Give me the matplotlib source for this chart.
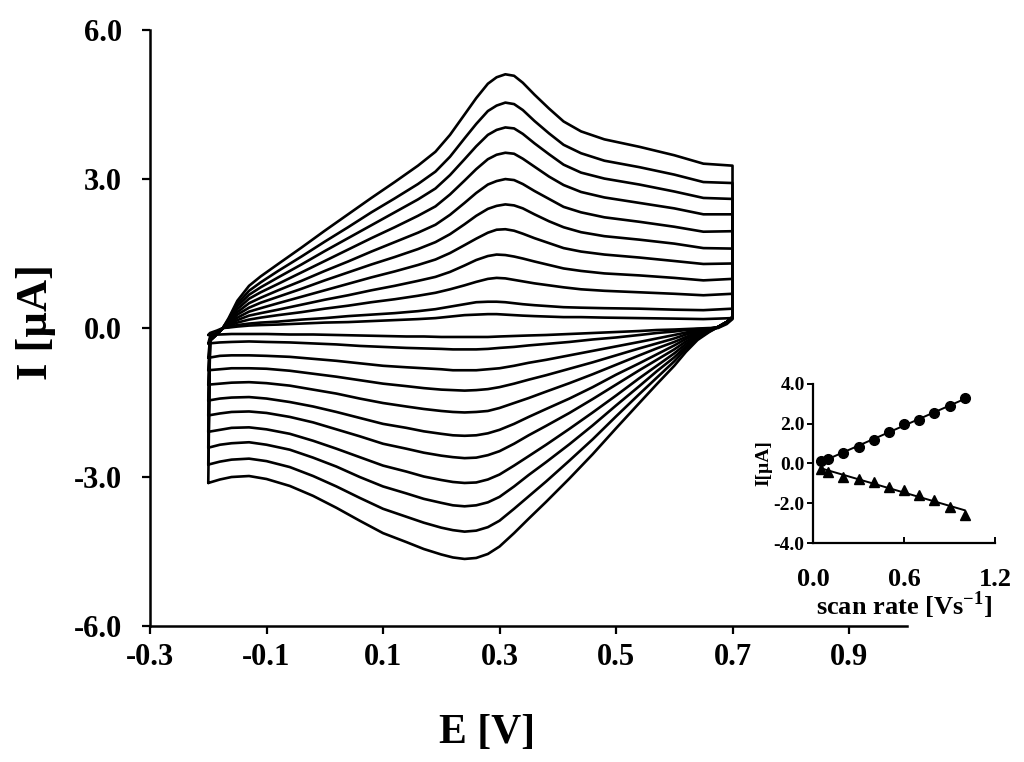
"""Cyclic voltammograms at increasing scan rate, with peak current vs scan rate inset."""
import matplotlib
matplotlib.use("Agg")
import matplotlib.pyplot as plt
import numpy as np

plt.rcParams["font.family"] = ["Liberation Serif", "DejaVu Serif"]
plt.rcParams["font.weight"] = "bold"
plt.rcParams["mathtext.fontset"] = "custom"
plt.rcParams["mathtext.rm"] = "Liberation Serif:bold"
plt.rcParams["mathtext.bf"] = "Liberation Serif:bold"

# ---------- main CVs (potential grids shared by all curves) ---------- #
E_fwd = [-0.200, -0.197, -0.185, -0.175, -0.165, -0.150, -0.130, -0.110, -0.080, -0.040,
         0.000, 0.040, 0.080, 0.120, 0.160, 0.190, 0.215, 0.240, 0.260, 0.280,
         0.295, 0.310, 0.325, 0.340, 0.360, 0.385, 0.410, 0.440, 0.480, 0.540,
         0.600, 0.650, 0.700]
E_rev = [0.700, 0.690, 0.675, 0.660, 0.640, 0.620, 0.600, 0.570, 0.540, 0.500,
         0.460, 0.420, 0.380, 0.350, 0.325, 0.300, 0.280, 0.260, 0.240, 0.220,
         0.200, 0.170, 0.140, 0.100, 0.060, 0.020, -0.020, -0.060, -0.100, -0.130,
         -0.160, -0.180, -0.200]

# anodic (forward) branches, 1.0 V/s first, I in uA
I_fwd = [
    [-3.12, -0.25, -0.12, 0.00, 0.20, 0.55, 0.85, 1.04, 1.29, 1.62, 1.96, 2.29, 2.62, 2.94, 3.27, 3.55, 3.89, 4.30, 4.63, 4.92, 5.05, 5.11, 5.08, 4.94, 4.70, 4.42, 4.16, 3.96, 3.80, 3.65, 3.48, 3.31, 3.27],
    [-2.75, -0.25, -0.12, 0.00, 0.18, 0.49, 0.75, 0.92, 1.15, 1.44, 1.74, 2.03, 2.33, 2.61, 2.90, 3.15, 3.45, 3.82, 4.11, 4.37, 4.48, 4.54, 4.51, 4.39, 4.17, 3.92, 3.69, 3.52, 3.37, 3.24, 3.09, 2.94, 2.92],
    [-2.41, -0.25, -0.12, 0.00, 0.16, 0.44, 0.67, 0.82, 1.02, 1.28, 1.55, 1.81, 2.07, 2.33, 2.59, 2.81, 3.08, 3.40, 3.66, 3.89, 3.99, 4.04, 4.02, 3.91, 3.72, 3.50, 3.29, 3.13, 3.01, 2.89, 2.75, 2.62, 2.60],
    [-2.09, -0.25, -0.12, 0.00, 0.14, 0.38, 0.59, 0.72, 0.89, 1.12, 1.35, 1.58, 1.81, 2.03, 2.26, 2.45, 2.69, 2.97, 3.20, 3.40, 3.49, 3.53, 3.51, 3.41, 3.25, 3.05, 2.88, 2.74, 2.63, 2.52, 2.41, 2.29, 2.29],
    [-1.76, -0.25, -0.12, 0.00, 0.12, 0.32, 0.50, 0.61, 0.76, 0.95, 1.15, 1.34, 1.54, 1.73, 1.92, 2.08, 2.28, 2.52, 2.72, 2.89, 2.96, 3.00, 2.98, 2.90, 2.76, 2.60, 2.44, 2.33, 2.23, 2.14, 2.04, 1.94, 1.95],
    [-1.46, -0.25, -0.12, 0.00, 0.10, 0.27, 0.41, 0.51, 0.63, 0.79, 0.96, 1.12, 1.28, 1.43, 1.59, 1.73, 1.89, 2.09, 2.26, 2.40, 2.46, 2.49, 2.47, 2.41, 2.29, 2.15, 2.03, 1.93, 1.85, 1.78, 1.70, 1.61, 1.60],
    [-1.14, -0.25, -0.12, 0.00, 0.08, 0.21, 0.33, 0.40, 0.50, 0.63, 0.76, 0.89, 1.02, 1.14, 1.27, 1.38, 1.51, 1.67, 1.80, 1.92, 1.98, 1.99, 1.96, 1.90, 1.81, 1.71, 1.61, 1.54, 1.48, 1.42, 1.35, 1.29, 1.30],
    [-0.85, -0.25, -0.12, 0.00, 0.06, 0.16, 0.25, 0.30, 0.37, 0.47, 0.57, 0.66, 0.76, 0.85, 0.95, 1.03, 1.13, 1.26, 1.37, 1.45, 1.48, 1.47, 1.44, 1.40, 1.34, 1.27, 1.20, 1.15, 1.10, 1.06, 1.01, 0.96, 0.99],
    [-0.60, -0.22, -0.10, 0.00, 0.04, 0.11, 0.17, 0.21, 0.26, 0.32, 0.39, 0.45, 0.52, 0.58, 0.65, 0.71, 0.78, 0.86, 0.93, 0.99, 1.01, 1.00, 0.97, 0.94, 0.90, 0.86, 0.82, 0.78, 0.75, 0.72, 0.69, 0.66, 0.69],
    [-0.31, -0.18, -0.08, 0.00, 0.02, 0.06, 0.09, 0.11, 0.13, 0.17, 0.20, 0.24, 0.27, 0.30, 0.34, 0.38, 0.43, 0.48, 0.52, 0.53, 0.53, 0.52, 0.50, 0.48, 0.46, 0.44, 0.42, 0.41, 0.40, 0.39, 0.37, 0.36, 0.39],
    [-0.14, -0.10, -0.05, 0.00, 0.01, 0.03, 0.05, 0.06, 0.07, 0.09, 0.11, 0.12, 0.14, 0.16, 0.18, 0.20, 0.23, 0.26, 0.27, 0.28, 0.28, 0.27, 0.26, 0.25, 0.24, 0.23, 0.22, 0.22, 0.21, 0.20, 0.19, 0.18, 0.20],
]

# cathodic (reverse) branches, same order
I_rev = [
    [0.22, 0.12, 0.02, -0.08, -0.24, -0.48, -0.76, -1.13, -1.51, -2.02, -2.54, -3.03, -3.50, -3.84, -4.13, -4.40, -4.55, -4.63, -4.65, -4.62, -4.56, -4.45, -4.31, -4.13, -3.88, -3.62, -3.38, -3.18, -3.04, -2.98, -3.00, -3.05, -3.12],
    [0.22, 0.12, 0.02, -0.07, -0.21, -0.42, -0.67, -1.00, -1.33, -1.78, -2.24, -2.67, -3.09, -3.39, -3.64, -3.88, -4.01, -4.08, -4.10, -4.07, -4.02, -3.92, -3.80, -3.64, -3.42, -3.19, -2.98, -2.80, -2.68, -2.63, -2.65, -2.69, -2.75],
    [0.22, 0.12, 0.02, -0.06, -0.19, -0.37, -0.59, -0.87, -1.17, -1.56, -1.96, -2.34, -2.70, -2.96, -3.19, -3.40, -3.51, -3.57, -3.59, -3.57, -3.52, -3.44, -3.33, -3.19, -3.00, -2.79, -2.61, -2.45, -2.35, -2.30, -2.32, -2.35, -2.41],
    [0.22, 0.12, 0.02, -0.05, -0.16, -0.32, -0.51, -0.76, -1.01, -1.36, -1.70, -2.03, -2.35, -2.58, -2.77, -2.95, -3.05, -3.11, -3.12, -3.10, -3.06, -2.99, -2.89, -2.77, -2.60, -2.43, -2.27, -2.13, -2.04, -2.00, -2.01, -2.05, -2.09],
    [0.22, 0.12, 0.02, -0.05, -0.14, -0.27, -0.43, -0.64, -0.85, -1.14, -1.43, -1.71, -1.97, -2.16, -2.33, -2.48, -2.56, -2.61, -2.62, -2.60, -2.57, -2.51, -2.43, -2.33, -2.18, -2.04, -1.90, -1.79, -1.71, -1.68, -1.69, -1.72, -1.76],
    [0.22, 0.12, 0.02, -0.04, -0.11, -0.22, -0.35, -0.53, -0.71, -0.94, -1.19, -1.42, -1.63, -1.79, -1.93, -2.05, -2.12, -2.16, -2.17, -2.16, -2.13, -2.08, -2.01, -1.93, -1.81, -1.69, -1.58, -1.49, -1.42, -1.39, -1.40, -1.42, -1.46],
    [0.22, 0.12, 0.02, -0.03, -0.09, -0.18, -0.28, -0.41, -0.55, -0.74, -0.93, -1.11, -1.28, -1.41, -1.51, -1.61, -1.67, -1.69, -1.70, -1.69, -1.67, -1.63, -1.58, -1.51, -1.42, -1.32, -1.24, -1.16, -1.11, -1.09, -1.10, -1.12, -1.14],
    [0.22, 0.12, 0.02, -0.02, -0.07, -0.13, -0.21, -0.31, -0.41, -0.55, -0.69, -0.82, -0.95, -1.04, -1.12, -1.19, -1.23, -1.25, -1.26, -1.25, -1.24, -1.21, -1.17, -1.12, -1.05, -0.98, -0.92, -0.86, -0.82, -0.81, -0.81, -0.83, -0.85],
    [0.22, 0.12, 0.02, -0.01, -0.04, -0.09, -0.14, -0.21, -0.28, -0.37, -0.46, -0.55, -0.64, -0.70, -0.76, -0.81, -0.83, -0.85, -0.85, -0.85, -0.83, -0.81, -0.79, -0.76, -0.71, -0.66, -0.62, -0.58, -0.56, -0.55, -0.55, -0.56, -0.60],
    [0.20, 0.10, 0.01, -0.01, -0.02, -0.04, -0.07, -0.10, -0.14, -0.19, -0.23, -0.28, -0.32, -0.35, -0.38, -0.40, -0.42, -0.43, -0.43, -0.43, -0.42, -0.41, -0.40, -0.38, -0.36, -0.33, -0.31, -0.29, -0.28, -0.27, -0.28, -0.29, -0.31],
    [0.18, 0.08, 0.00, 0.00, -0.01, -0.02, -0.03, -0.04, -0.06, -0.08, -0.10, -0.12, -0.14, -0.15, -0.16, -0.17, -0.18, -0.18, -0.18, -0.18, -0.18, -0.17, -0.17, -0.16, -0.15, -0.14, -0.13, -0.13, -0.12, -0.12, -0.12, -0.13, -0.14],
]

# ---------- inset: peak current vs scan rate ---------- #
scan_rate = [0.05, 0.1, 0.2, 0.3, 0.4, 0.5, 0.6, 0.7, 0.8, 0.9, 1.0]
ipa = [0.10, 0.25, 0.55, 0.83, 1.20, 1.58, 2.00, 2.20, 2.55, 2.88, 3.30]
ipc = [-0.30, -0.42, -0.67, -0.78, -0.92, -1.17, -1.33, -1.58, -1.83, -2.17, -2.58]

x_ticks = [-0.3, -0.1, 0.1, 0.3, 0.5, 0.7, 0.9]
y_ticks = [-6.0, -3.0, 0.0, 3.0, 6.0]


def main() -> None:
    fig = plt.figure(figsize=(10.24, 7.62), dpi=100)
    ax = fig.add_axes([0.1465, 0.1785, 0.7395, 0.782])
    for f, r in zip(I_fwd, I_rev):
        ax.plot(E_fwd + E_rev, f + r, color="black", lw=1.9,
                solid_joinstyle="round", solid_capstyle="round")
    ax.set_xlim(-0.3, 1.0); ax.set_ylim(-6.0, 6.0)
    ax.set_xticks(x_ticks); ax.set_xticklabels([f"{v:.1f}" for v in x_ticks])
    ax.set_yticks(y_ticks); ax.set_yticklabels([f"{v:.1f}" for v in y_ticks])
    for s in ("top", "right"):
        ax.spines[s].set_visible(False)
    for s in ("left", "bottom"):
        ax.spines[s].set_linewidth(1.8)
    ax.tick_params(direction="out", length=6, width=1.6, labelsize=22)
    ax.tick_params(axis="x", pad=6)
    ax.tick_params(axis="y", pad=14)
    ax.set_xlabel("E [V]", fontsize=30, fontweight="bold")
    ax.xaxis.set_label_coords(0.445, -0.148)
    ax.set_ylabel("I [\u00b5A]", fontsize=32, fontweight="bold")
    ax.yaxis.set_label_coords(-0.124, 0.51)

    ins = fig.add_axes([0.794, 0.2874, 0.1777, 0.2087])
    sr = np.array(scan_rate)
    for vals, mk in ((ipa, "o"), (ipc, "^")):
        k, b = np.polyfit(sr, vals, 1)
        ins.plot(sr, k * sr + b, color="black", lw=1.4)
        ins.plot(sr, vals, ls="none", marker=mk, ms=7, color="black")
    ins.set_xlim(0, 1.2); ins.set_ylim(-4, 4)
    ins.set_xticks([0.0, 0.6, 1.2]); ins.set_xticklabels(["0.0", "0.6", "1.2"])
    ins.set_yticks([-4, -2, 0, 2, 4]); ins.set_yticklabels(["-4.0", "-2.0", "0.0", "2.0", "4.0"])
    for s in ("top", "right"):
        ins.spines[s].set_visible(False)
    for s in ("left", "bottom"):
        ins.spines[s].set_linewidth(1.6)
    ins.tick_params(axis="y", direction="out", length=4, width=1.4, labelsize=14, pad=2)
    ins.tick_params(axis="x", direction="in", length=4, width=1.4, labelsize=19, pad=18)
    ins.set_xlabel("scan rate [Vs$^{-1}$]", fontsize=19, fontweight="bold", labelpad=-1)
    ins.set_ylabel("I[\u00b5A]", fontsize=14, fontweight="bold", labelpad=1)

    fig.savefig("out.png", dpi=100)
    plt.close(fig)


if __name__ == "__main__":
    main()
